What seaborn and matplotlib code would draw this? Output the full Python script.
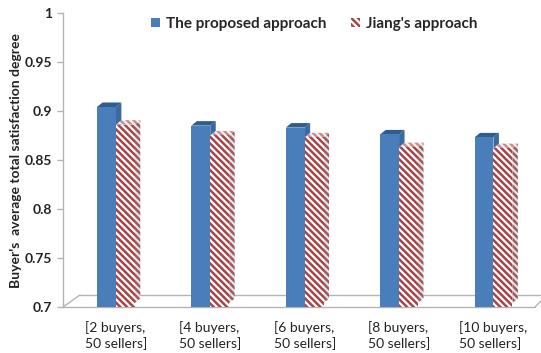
import numpy as np
import pandas as pd
import seaborn as sns
import matplotlib
matplotlib.use("Agg")
import matplotlib.pyplot as plt
import matplotlib.transforms as mtransforms
from matplotlib.patches import Polygon, Patch
from matplotlib.lines import Line2D

# ---- data ----
categories = ["[2 buyers,\n50 sellers]", "[4 buyers,\n50 sellers]", "[6 buyers,\n50 sellers]",
              "[8 buyers,\n50 sellers]", "[10 buyers,\n50 sellers]"]
series_names = ["The proposed approach", "Jiang's approach"]
proposed = [0.900, 0.881, 0.879, 0.872, 0.869]
jiang = [0.882, 0.871, 0.869, 0.859, 0.858]
y_ticks = [0.7, 0.75, 0.8, 0.85, 0.9, 0.95, 1.0]
y_tick_labels = ["0.7", "0.75", "0.8", "0.85", "0.9", "0.95", "1"]

df = pd.DataFrame({
    "group": categories * 2,
    "approach": [series_names[0]] * len(categories) + [series_names[1]] * len(categories),
    "value": proposed + jiang,
})

sns.set_theme(style="white")
plt.rcParams["font.family"] = ["Lato", "DejaVu Sans"]
plt.rcParams["hatch.linewidth"] = 1.8

BLUE = "#4a7ebb"
BLUE_TOP = "#2f5d8f"
BLUE_SIDE = "#3b6aa3"
RED = "#a84447"
GRID = "#b4b4b4"
HATCH = "\\" * 5

W, H = 541, 353
fig = plt.figure(figsize=(W / 100, H / 100), dpi=100)
ax = fig.add_axes([63 / W, (H - 307) / H, 472 / W, 294 / H])

sns.barplot(data=df, x="group", y="value", hue="approach", order=categories,
            hue_order=series_names, palette=[BLUE, "white"], width=0.4,
            saturation=1, legend=False, ax=ax)

ax.set_ylim(0.7, 1.0)
ax.set_xlim(-0.56, 4.44)
ax.set_yticks(y_ticks)
ax.set_yticklabels(y_tick_labels, fontweight="bold", fontsize=10, color="#222222")
ax.set_xticks(range(len(categories)))
ax.set_xticklabels(categories, fontsize=10, color="#222222", multialignment="left",
                   linespacing=1.3)
ax.tick_params(axis="y", length=4, width=1, color=GRID, pad=4, left=True)
ax.tick_params(axis="x", length=0, pad=10)
for s in ["top", "right", "bottom"]:
    ax.spines[s].set_visible(False)
ax.spines["left"].set_color(GRID)
ax.spines["left"].set_linewidth(1)
ax.set_xlabel("")
ax.set_ylabel("Buyer's  average total satisfaction degree", fontweight="bold",
              fontsize=10, color="#222222", labelpad=2)

# bars sit slightly inside the floor: raise them a few pixels
lift = mtransforms.ScaledTranslation(0, 4 / 100, fig.dpi_scale_trans)
n = len(categories)
bars = list(ax.patches)
for i, p in enumerate(bars):
    p.set_transform(ax.transData + lift)
    p.set_linewidth(0)
    if i >= n:
        p.set_facecolor("white")
        p.set_edgecolor(RED)
        p.set_hatch(HATCH)

fig.canvas.draw()
ident = mtransforms.IdentityTransform()
dx, dy = 5.5, 4.5
floor_px = ax.transData.transform((0, 0.7))[1]
base_px = floor_px + 4

# depth faces (side and top) for each bar
for i, p in enumerate(bars):
    bb = p.get_window_extent()
    x0, x1, y1 = bb.x0, bb.x1, bb.y1
    y0 = base_px
    side = [(x1, y0), (x1 + dx, y0 + dy), (x1 + dx, y1 + dy), (x1, y1)]
    top = [(x0, y1), (x1, y1), (x1 + dx, y1 + dy), (x0 + dx, y1 + dy)]
    z = p.get_zorder()
    if i < n:
        ax.add_patch(Polygon(side, closed=True, transform=ident, facecolor=BLUE_SIDE,
                             edgecolor="none", clip_on=False, zorder=z - 0.1))
        ax.add_patch(Polygon(top, closed=True, transform=ident, facecolor=BLUE_TOP,
                             edgecolor="none", clip_on=False, zorder=z - 0.1))
    else:
        p.set_zorder(z + 0.5)
        ax.add_patch(Polygon(side, closed=True, transform=ident, facecolor="#e4e4e4",
                             edgecolor="#a05a5c", linewidth=0, hatch=HATCH,
                             clip_on=False, zorder=z + 0.4))
        ax.add_patch(Polygon(top, closed=True, transform=ident, facecolor="#f6f0f0",
                             edgecolor="#c48e90", linewidth=0, hatch=HATCH,
                             clip_on=False, zorder=z + 0.4))

# floor outline
fl = dict(transform=ident, color=GRID, linewidth=1, clip_on=False, zorder=0.5)
ax.add_line(Line2D([63, 535], [floor_px, floor_px], **fl))
ax.add_line(Line2D([63, 80], [floor_px, floor_px + 12], **fl))
ax.add_line(Line2D([80, 541], [floor_px + 12, floor_px + 12], **fl))
ax.add_line(Line2D([535, 541], [floor_px, floor_px + 6], **fl))

handles = [Patch(facecolor=BLUE, edgecolor="none"),
           Patch(facecolor="white", edgecolor=RED, linewidth=0, hatch=HATCH)]
fig.legend(handles, series_names, loc="center", bbox_to_anchor=(0.581, 0.932), ncol=2,
           frameon=False, prop={"weight": "bold", "size": 11}, handlelength=0.6,
           handleheight=0.6, handletextpad=0.4, columnspacing=1.6)

fig.savefig("out.png", dpi=100)
